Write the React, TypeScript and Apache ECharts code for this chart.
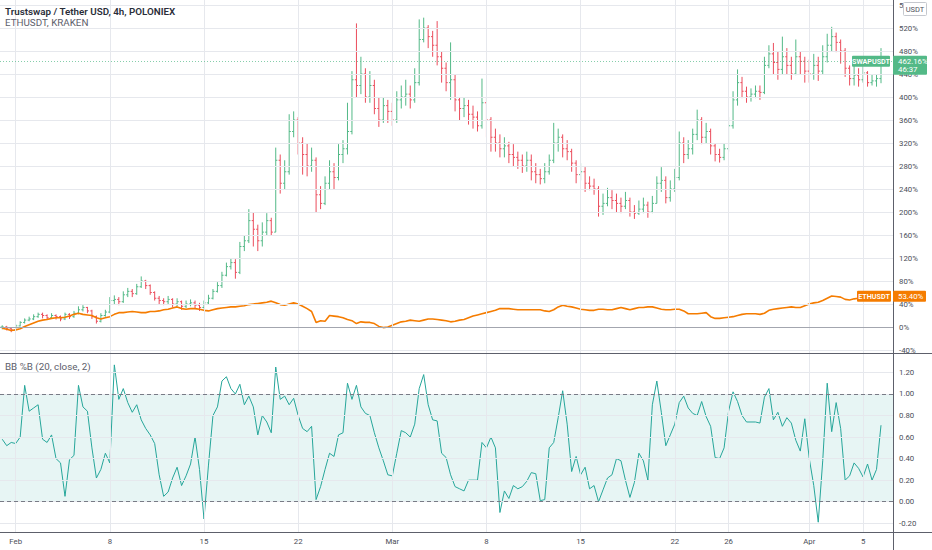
import React, { useEffect, useRef } from "react";
import * as echarts from "echarts";

// ---------- axis ticks ----------
const dateTickDays = [0, 7, 14, 21, 28, 35, 42, 49, 53, 59, 63]; // days since Feb 1
const dateTickLabels = ["Feb", "8", "15", "22", "Mar", "8", "15", "22", "26", "Apr", "5"];
const priceTicks = [-40, 0, 40, 80, 120, 160, 200, 240, 280, 320, 360, 400, 440, 480, 520, 560];
const pctbTicks = [-0.2, 0, 0.2, 0.4, 0.6, 0.8, 1.0, 1.2];

// ---------- bar timing (8h bars starting Jan 31 00:00) ----------
const BAR_START_DAY = -1;
const BAR_STEP_DAYS = 1 / 3;

// ---------- SWAPUSDT (% change) ----------
const swapFirstOpen = 0;
const swapClose = [
  0, -3, -5, 2, 8, 12, 14, 18, 22, 20,
  16, 20, 18, 14, 22, 18, 24, 30, 34, 28,
  18, 10, 20, 26, 46, 48, 44, 56, 62, 58,
  70, 80, 72, 60, 50, 46, 44, 48, 40, 44,
  36, 40, 42, 38, 34, 42, 50, 62, 72, 90,
  105, 112, 95, 140, 150, 185, 170, 150, 165, 185,
  165, 290, 250, 270, 340, 360, 320, 300, 280, 290,
  230, 215, 250, 270, 260, 300, 310, 340, 430, 420,
  440, 400, 420, 380, 360, 385, 375, 360, 395, 400,
  405, 395, 425, 500, 520, 505, 490, 470, 450, 425,
  430, 395, 380, 385, 370, 365, 350, 390, 360, 330,
  320, 310, 315, 300, 295, 290, 280, 290, 270, 265,
  258, 270, 290, 320, 330, 310, 305, 285, 265, 270,
  250, 245, 240, 210, 215, 225, 220, 215, 210, 220,
  200, 198, 205, 212, 200, 215, 250, 255, 225, 240,
  260, 320, 300, 310, 335, 360, 330, 340, 315, 300,
  295, 310, 350, 395, 425, 410, 400, 405, 410, 408,
  455, 475, 460, 448, 470, 455, 440, 470, 462, 445,
  440, 455, 445, 470, 490, 505, 495, 480, 450, 432,
  438, 430, 442, 425, 428, 432, 462.16,
];
const swapHigh = [
  3, 2, -1, 5, 10, 15, 18, 22, 25, 25,
  22, 24, 22, 20, 25, 24, 28, 36, 38, 35,
  30, 20, 24, 30, 52, 55, 52, 62, 68, 66,
  75, 88, 82, 74, 62, 54, 50, 54, 50, 50,
  46, 46, 48, 46, 42, 46, 56, 66, 78, 96,
  112, 120, 118, 148, 160, 205, 200, 178, 182, 198,
  190, 312, 300, 290, 370, 375, 365, 330, 320, 312,
  295, 245, 262, 290, 285, 318, 325, 390, 445, 528,
  470, 450, 445, 430, 400, 400, 395, 390, 410, 420,
  430, 420, 450, 535, 538, 525, 515, 532, 480, 460,
  495, 440, 400, 400, 395, 385, 375, 432, 400, 365,
  345, 335, 330, 322, 318, 305, 300, 305, 300, 285,
  275, 285, 300, 355, 345, 335, 325, 310, 290, 285,
  278, 262, 258, 245, 232, 242, 238, 232, 225, 235,
  225, 212, 220, 225, 218, 228, 262, 278, 262, 255,
  275, 340, 330, 325, 345, 378, 365, 355, 345, 320,
  310, 320, 365, 410, 448, 435, 418, 415, 420, 420,
  470, 490, 494, 480, 505, 485, 470, 500, 480, 470,
  465, 475, 470, 490, 510, 522, 512, 500, 485, 455,
  455, 450, 455, 445, 440, 440, 485,
];
const swapLow = [
  -4, -6, -9, -6, 1, 6, 10, 12, 16, 15,
  13, 14, 13, 10, 12, 14, 16, 22, 27, 24,
  14, 6, 8, 18, 24, 40, 38, 42, 52, 52,
  56, 68, 66, 56, 46, 40, 38, 40, 34, 36,
  30, 33, 36, 32, 28, 32, 40, 48, 60, 68,
  88, 100, 84, 92, 132, 146, 140, 132, 140, 160,
  160, 165, 232, 240, 265, 330, 300, 265, 262, 270,
  200, 205, 212, 240, 240, 255, 285, 300, 335, 400,
  405, 390, 390, 370, 348, 355, 355, 350, 355, 380,
  385, 380, 390, 420, 495, 485, 470, 455, 425, 410,
  395, 375, 360, 365, 352, 345, 340, 345, 330, 305,
  305, 295, 295, 285, 280, 275, 268, 270, 255, 250,
  248, 250, 265, 285, 305, 295, 290, 270, 250, 255,
  235, 238, 230, 192, 195, 210, 205, 200, 198, 205,
  192, 188, 195, 198, 190, 198, 215, 235, 215, 218,
  235, 255, 285, 292, 300, 325, 318, 320, 300, 288,
  286, 290, 305, 345, 385, 398, 390, 392, 398, 395,
  405, 450, 440, 430, 440, 440, 430, 438, 440, 425,
  425, 430, 428, 440, 460, 480, 478, 458, 435, 420,
  420, 418, 425, 418, 420, 418, 424,
];

// ---------- ETHUSDT comparison (% change) ----------
const ethChange = [
  -2, -4, -6, -5, -3, 1, 4, 7, 10, 12,
  13, 15, 16, 16, 17, 19, 22, 24, 22, 21,
  20, 16, 14, 16, 18, 22, 25, 25, 26, 27,
  26, 25, 25, 27, 27, 28, 30, 31, 33, 35,
  32, 31, 32, 32, 31, 29, 28, 30, 32, 33,
  34, 35, 35, 36, 37, 39, 40, 41, 42, 43,
  45, 42, 39, 38, 40, 42, 40, 36, 32, 27,
  8, 11, 10, 20, 19, 18, 16, 13, 11, 6,
  9, 8, 8, 6, 1, -1, 0, 3, 6, 9,
  10, 12, 11, 10, 12, 14, 14, 13, 12, 11,
  9, 10, 12, 13, 16, 19, 21, 23, 25, 27,
  29, 32, 32, 32, 31, 30, 30, 30, 30, 30,
  30, 28, 27, 30, 35, 38, 36, 35, 33, 31,
  30, 29, 29, 31, 31, 30, 30, 32, 34, 32,
  30, 32, 34, 34, 35, 35, 33, 31, 30, 30,
  31, 31, 28, 23, 23, 23, 24, 25, 18, 15,
  15, 16, 17, 18, 20, 22, 23, 23, 23, 22,
  24, 29, 31, 32, 33, 34, 35, 34, 34, 37,
  40, 42, 43, 46, 50, 54, 53, 52, 48, 47,
  49, 50, 49, 51, 52, 53, 53.4,
];

// ---------- BB %B (20, close, 2) ----------
const bbPercentB = [
  0.58, 0.52, 0.55, 0.54, 0.60, 1.08, 0.84, 0.87, 0.90, 0.58,
  0.55, 0.62, 0.40, 0.36, 0.05, 0.39, 0.43, 1.08, 0.88, 0.84,
  0.50, 0.22, 0.30, 0.45, 0.36, 1.27, 0.95, 1.05, 0.92, 0.83,
  0.90, 0.76, 0.68, 0.62, 0.54, 0.25, 0.05, 0.09, 0.22, 0.32,
  0.15, 0.24, 0.35, 0.60, 0.30, -0.16, 0.34, 0.80, 0.88, 1.12,
  1.16, 1.05, 1.00, 1.09, 0.90, 0.98, 0.88, 0.62, 0.80, 0.74,
  0.64, 1.25, 0.95, 0.98, 0.90, 0.96, 0.80, 0.68, 0.65, 0.70,
  0.02, 0.14, 0.30, 0.45, 0.42, 0.62, 0.64, 1.10, 0.95, 1.08,
  0.88, 0.82, 0.80, 0.64, 0.50, 0.38, 0.25, 0.24, 0.45, 0.66,
  0.64, 0.60, 0.72, 1.05, 1.18, 0.90, 0.76, 0.75, 0.45, 0.41,
  0.25, 0.14, 0.12, 0.10, 0.20, 0.20, 0.20, 0.55, 0.50, 0.60,
  0.50, -0.10, 0.10, 0.03, 0.15, 0.12, 0.14, 0.19, 0.27, 0.26,
  0.01, 0.02, 0.50, 0.55, 0.78, 1.03, 0.72, 0.28, 0.42, 0.25,
  0.32, 0.12, 0.15, 0.00, 0.11, 0.22, 0.25, 0.40, 0.38, 0.20,
  0.04, 0.18, 0.45, 0.38, 0.20, 0.90, 1.12, 0.83, 0.52, 0.62,
  0.72, 0.92, 0.98, 0.87, 0.82, 0.80, 0.93, 0.79, 0.70, 0.41,
  0.40, 0.50, 0.84, 1.02, 0.93, 0.80, 0.74, 0.74, 0.74, 0.73,
  0.97, 1.05, 0.76, 0.83, 0.70, 0.78, 0.73, 0.57, 0.47, 0.77,
  0.40, 0.15, -0.19, 0.38, 1.10, 0.65, 0.92, 0.68, 0.20, 0.24,
  0.36, 0.31, 0.23, 0.35, 0.20, 0.30, 0.71,
];

const SWAP_COUNTDOWN = "46:37";

// ---------- styling ----------
const UP = "#53b987";
const DOWN = "#eb4d5c";
const ETH = "#f57c00";
const PCTB = "#26a69a";
const GRID = "#e6e8ed";
const AXIS = "#5d606b";
const LABEL = "#4a4d57";
const FONT = "Roboto, 'Open Sans', sans-serif";
const AXIS_FONT = 7.8;

const X_MIN = -7 / 6;
const X_MAX = 65.225;

export default function App() {
  const ref = useRef<HTMLDivElement>(null);

  useEffect(() => {
    if (!ref.current) return;
    const chart = echarts.init(ref.current, undefined, { renderer: "svg" });
    const xOf = (i: number) => BAR_START_DAY + i * BAR_STEP_DAYS;

    const bars = swapClose.map((c, i) => [
      xOf(i),
      i === 0 ? swapFirstOpen : swapClose[i - 1],
      c,
      swapLow[i],
      swapHigh[i],
    ]);
    const eth = ethChange.map((v, i) => [xOf(i), v]);
    const pctb = bbPercentB.map((v, i) => [xOf(i), v]);

    const dateFmt = (v: number) => {
      const k = dateTickDays.findIndex((d) => Math.abs(d - v) < 1e-6);
      return k >= 0 ? dateTickLabels[k] : "";
    };

    const gridMarkLine = (horiz: number[]) => ({
      silent: true,
      symbol: ["none", "none"],
      label: { show: false },
      animation: false,
      lineStyle: { color: GRID, width: 1, type: "solid" },
      data: [
        ...dateTickDays.map((d) => ({ xAxis: d })),
        ...horiz.map((v) => ({ yAxis: v })),
      ],
    });

    const option: any = {
      animation: false,
      backgroundColor: "#ffffff",
      textStyle: { fontFamily: FONT },
      grid: [
        { left: 0, top: 0, width: 893, height: 353 },
        { left: 0, top: 354, width: 893, height: 178 },
      ],
      xAxis: [
        {
          gridIndex: 0,
          type: "value",
          min: X_MIN,
          max: X_MAX,
          axisLine: { show: false },
          axisTick: { show: false, customValues: dateTickDays },
          axisLabel: { show: false, customValues: dateTickDays },
          splitLine: { show: false },
        },
        {
          gridIndex: 1,
          type: "value",
          min: X_MIN,
          max: X_MAX,
          axisLine: { show: false },
          axisTick: { show: true, length: 3, customValues: dateTickDays, lineStyle: { color: AXIS } },
          axisLabel: {
            customValues: dateTickDays,
            formatter: dateFmt,
            fontSize: AXIS_FONT,
            color: LABEL,
            margin: 5,
            fontFamily: FONT,
          },
          splitLine: { show: false },
        },
      ],
      yAxis: [
        {
          gridIndex: 0,
          type: "value",
          position: "right",
          min: -45.2,
          max: 568.7,
          axisLine: { show: false },
          axisTick: { show: true, length: 3, customValues: priceTicks, lineStyle: { color: AXIS } },
          axisLabel: {
            customValues: priceTicks,
            formatter: (v: number) => `${v}%`,
            fontSize: AXIS_FONT,
            color: LABEL,
            margin: 6,
            fontFamily: FONT,
          },
          splitLine: { show: false },
        },
        {
          gridIndex: 1,
          type: "value",
          position: "right",
          min: -0.281,
          max: 1.371,
          axisLine: { show: false },
          axisTick: { show: true, length: 3, customValues: pctbTicks, lineStyle: { color: AXIS } },
          axisLabel: {
            customValues: pctbTicks,
            formatter: (v: number) => v.toFixed(2),
            fontSize: AXIS_FONT,
            color: LABEL,
            margin: 6,
            fontFamily: FONT,
          },
          splitLine: { show: false },
        },
      ],
      series: [
        {
          name: "gridTop",
          type: "line",
          xAxisIndex: 0,
          yAxisIndex: 0,
          data: [[X_MIN, 0]],
          symbol: "none",
          showSymbol: false,
          lineStyle: { opacity: 0 },
          z: 0,
          markLine: gridMarkLine(priceTicks),
        },
        {
          name: "gridBottom",
          type: "line",
          xAxisIndex: 1,
          yAxisIndex: 1,
          data: [[X_MIN, 0]],
          symbol: "none",
          showSymbol: false,
          lineStyle: { opacity: 0 },
          z: 0,
          markLine: gridMarkLine(pctbTicks),
        },
        {
          name: "SWAPUSDT",
          type: "custom",
          xAxisIndex: 0,
          yAxisIndex: 0,
          clip: true,
          z: 2,
          dimensions: ["x", "open", "close", "low", "high"],
          encode: { x: 0, y: [1, 2, 3, 4] },
          data: bars,
          renderItem: (params: any, api: any) => {
            const x = api.value(0);
            const o = api.value(1);
            const c = api.value(2);
            const l = api.value(3);
            const h = api.value(4);
            const pO = api.coord([x, o]);
            const pC = api.coord([x, c]);
            const pL = api.coord([x, l]);
            const pH = api.coord([x, h]);
            const w = Math.max(1.2, api.size([BAR_STEP_DAYS, 0])[0] * 0.36);
            const color = c >= o ? UP : DOWN;
            const st = { stroke: color, lineWidth: 1 };
            return {
              type: "group",
              children: [
                { type: "line", shape: { x1: pL[0], y1: pL[1], x2: pH[0], y2: pH[1] }, style: st },
                { type: "line", shape: { x1: pO[0] - w, y1: pO[1], x2: pO[0], y2: pO[1] }, style: st },
                { type: "line", shape: { x1: pC[0], y1: pC[1], x2: pC[0] + w, y2: pC[1] }, style: st },
              ],
            };
          },
        },
        {
          name: "ETHUSDT",
          type: "line",
          xAxisIndex: 0,
          yAxisIndex: 0,
          data: eth,
          showSymbol: false,
          symbol: "none",
          lineStyle: { color: ETH, width: 1.6 },
          z: 3,
          markLine: {
            silent: true,
            symbol: ["none", "none"],
            label: { show: false },
            animation: false,
            data: [
              { yAxis: 0, lineStyle: { color: "#a3a6af", width: 1, type: "solid" } },
              {
                yAxis: swapClose[swapClose.length - 1],
                lineStyle: { color: UP, width: 1, type: [1, 2], opacity: 0.7 },
              },
            ],
          },
        },
        {
          name: "BB %B",
          type: "line",
          xAxisIndex: 1,
          yAxisIndex: 1,
          data: pctb,
          showSymbol: false,
          symbol: "none",
          z: 3,
          lineStyle: { color: PCTB, width: 1 },
          markArea: {
            silent: true,
            itemStyle: { color: "rgba(38,166,154,0.11)" },
            data: [[{ yAxis: 0 }, { yAxis: 1 }]],
          },
          markLine: {
            silent: true,
            symbol: ["none", "none"],
            label: { show: false },
            animation: false,
            lineStyle: { color: "#787b86", width: 1, type: [4, 3] },
            data: [{ yAxis: 1 }, { yAxis: 0 }],
          },
        },
      ],
    };

    chart.setOption(option);

    const lastSwap = swapClose[swapClose.length - 1];
    const lastEth = ethChange[ethChange.length - 1];
    const ySwap = chart.convertToPixel({ yAxisIndex: 0 }, lastSwap) as number;
    const yEth = chart.convertToPixel({ yAxisIndex: 0 }, lastEth) as number;

    const txt = (x: number, y: number, text: string, size: number, fill: string, weight: any = "normal", align = "left") => ({
      type: "text",
      x,
      y,
      z: 200,
      silent: true,
      style: { text, fontSize: size, fontWeight: weight, fontFamily: FONT, fill, align, verticalAlign: "middle" },
    });
    const rect = (x: number, y: number, w: number, h: number, fill: string, stroke?: string) => ({
      type: "rect",
      z: 150,
      silent: true,
      shape: { x, y, width: w, height: h, r: 1 },
      style: stroke ? { fill, stroke, lineWidth: 1 } : { fill },
    });
    const line = (x1: number, y1: number, x2: number, y2: number, color: string) => ({
      type: "line",
      z: 120,
      silent: true,
      shape: { x1, y1, x2, y2 },
      style: { stroke: color, lineWidth: 1 },
    });

    chart.setOption({
      graphic: [
        // pane borders
        line(0, 353.5, 932, 353.5, AXIS),
        line(0, 532.5, 932, 532.5, AXIS),
        line(893.5, 0, 893.5, 550, AXIS),
        // legends
        txt(5, 11, "Trustswap / Tether USD, 4h, POLONIEX", 9.8, "#2a2e39", 600),
        txt(5, 22, "ETHUSDT, KRAKEN", 9.8, "#5d606b"),
        txt(5, 366, "BB %B (20, close, 2)", 9.8, "#5d606b"),
        // currency box
        rect(903.5, 2.5, 23, 13, "#ffffff", "#c5c8ce"),
        txt(915, 9.2, "USDT", 7.5, "#50535e", "normal", "center"),
        // SWAP last value labels
        rect(852, ySwap - 5.5, 38, 11, UP),
        txt(871, ySwap, "SWAPUSDT", 7.2, "#ffffff", 600, "center"),
        rect(893, ySwap - 5.5, 34, 19, UP),
        line(893, ySwap + 0.5, 896, ySwap + 0.5, "#ffffff"),
        txt(898, ySwap, `${lastSwap.toFixed(2)}%`, AXIS_FONT, "#ffffff"),
        txt(898, ySwap + 8.5, SWAP_COUNTDOWN, AXIS_FONT, "#ffffff"),
        // ETH last value labels
        rect(857, yEth - 5.5, 34, 11, ETH),
        txt(874, yEth, "ETHUSDT", 7.2, "#ffffff", 600, "center"),
        rect(893, yEth - 5.5, 33, 11, ETH),
        line(893, yEth + 0.5, 896, yEth + 0.5, "#ffffff"),
        txt(898, yEth, `${lastEth.toFixed(2)}%`, AXIS_FONT, "#ffffff"),
      ],
    });

    return () => chart.dispose();
  }, []);

  return (
    <div
      ref={ref}
      style={{ position: "fixed", left: 0, top: 0, width: 932, height: 550, background: "#ffffff" }}
    />
  );
}
